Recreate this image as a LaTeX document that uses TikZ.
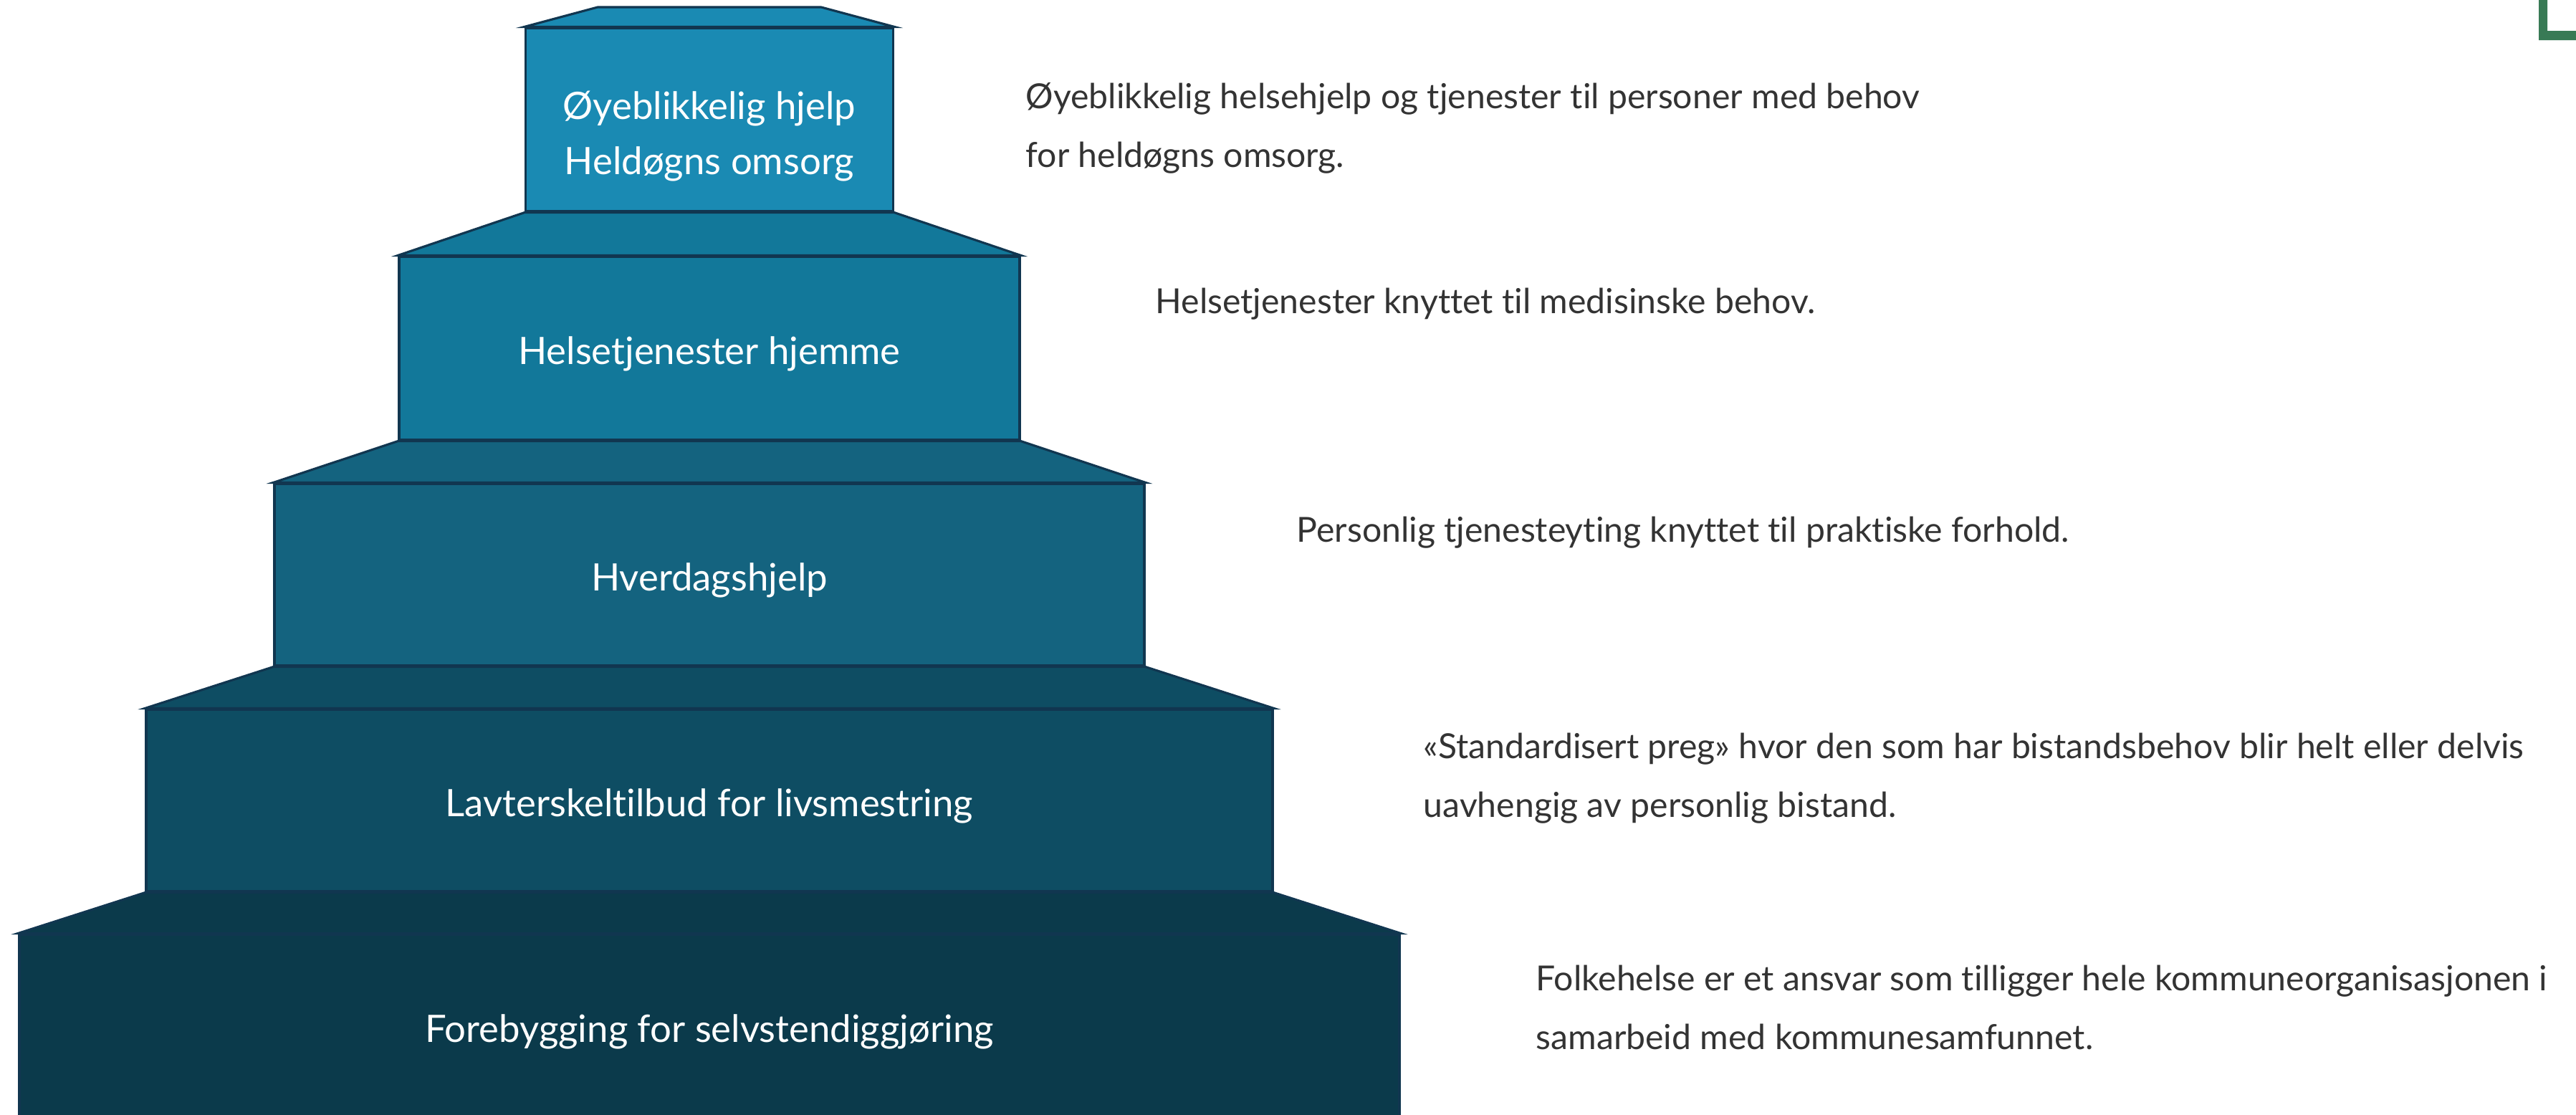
\documentclass[tikz,border=0pt]{standalone}
\usepackage{fontspec}
\setmainfont{Lato}[Ligatures=NoCommon]
\usetikzlibrary{positioning}
\definecolor{tierA}{HTML}{1A8AB3}
\definecolor{tierB}{HTML}{12789A}
\definecolor{tierC}{HTML}{14637F}
\definecolor{tierD}{HTML}{0E4D63}
\definecolor{tierE}{HTML}{0B3A4B}
\definecolor{edge}{HTML}{113650}
\definecolor{txt}{HTML}{333333}
\definecolor{frame}{HTML}{387A55}

\begin{document}
\begin{tikzpicture}[
    tier/.style={draw=edge, line width=0.9pt, inner sep=0pt},
    lbl/.style={text=white, align=center, inner sep=0pt, yshift=-0.08cm,
      font=\fontsize{15pt}{22pt}\selectfont},
    desc/.style={anchor=west, text=txt, align=left, inner sep=0pt,
      font=\fontsize{13.7pt}{23.3pt}\selectfont}
  ]
    \useasboundingbox (0,0) rectangle (35.95,-15.55);
    % Steps of the stair
    \node[tier, fill=tierA, minimum width=5.13cm, minimum height=2.56cm,
      label={[lbl, yshift=-0.15cm]center:Øyeblikkelig hjelp\\Heldøgns omsorg}] (t1) at (9.90,-1.67) {};
    \node[tier, fill=tierB, minimum width=8.66cm, minimum height=2.56cm,
      label={[lbl]center:Helsetjenester hjemme}] (t2) at (9.90,-4.86) {};
    \node[tier, fill=tierC, minimum width=12.14cm, minimum height=2.54cm,
      label={[lbl]center:Hverdagshjelp}] (t3) at (9.90,-8.02) {};
    \node[tier, fill=tierD, minimum width=15.72cm, minimum height=2.54cm,
      label={[lbl]center:Lavterskeltilbud for livsmestring}] (t4) at (9.90,-11.17) {};
    \node[tier, fill=tierE, minimum width=19.26cm, minimum height=2.56cm,
      label={[lbl]center:Forebygging for selvstendiggjøring}] (t5) at (9.90,-14.32) {};
    % Cap and slopes
    \filldraw[fill=tierA, draw=edge, line width=0.9pt] (t1.north west) -- (8.34,-0.10) -- (11.46,-0.10) -- (t1.north east) -- cycle;
    \foreach \a/\b/\c in {t1/t2/tierB, t2/t3/tierC, t3/t4/tierD, t4/t5/tierE} {
        \filldraw[fill=\c, draw=edge, line width=0.9pt] (\a.south west) -- (\b.north west) -- (\b.north east) -- (\a.south east) -- cycle;
    }
    % Descriptions
    \node[desc] (d1) at (14.31,-1.79) {Øyeblikkelig helsehjelp og tjenester til personer med behov\\for heldøgns omsorg.};
    \node[desc] (d2) at (16.12,-4.24) {Helsetjenester knyttet til medisinske behov.};
    \node[desc] (d3) at (18.09,-7.43) {Personlig tjenesteyting knyttet til praktiske forhold.};
    \node[desc] (d4) at (19.86,-10.86) {«Standardisert preg» hvor den som har bistandsbehov blir helt eller delvis\\uavhengig av personlig bistand.};
    \node[desc] (d5) at (21.43,-14.06) {Folkehelse er et ansvar som tilligger hele kommuneorganisasjonen i\\samarbeid med kommunesamfunnet.};
    % Corner of the frame
    \fill[frame] (35.43,0) -- (35.55,0) -- (35.55,-0.43) -- (35.95,-0.43) -- (35.95,-0.56) -- (35.43,-0.56) -- cycle;
\end{tikzpicture}
\end{document}
